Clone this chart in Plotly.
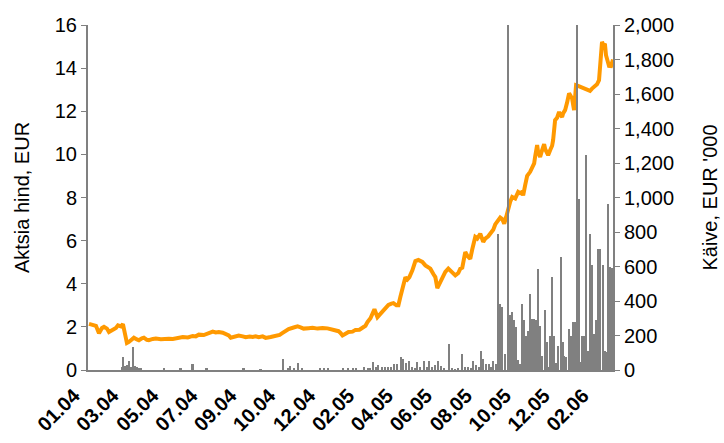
import plotly.graph_objects as go

# Trading-day index of each price observation and closing price (EUR)
price_day = [0, 4, 7, 10, 13, 15, 18, 20, 24, 27, 29, 32, 34, 35, 37, 38, 40, 42, 45,
             48, 50, 53, 55, 58, 60, 64, 67, 72, 77, 80, 84, 89, 94, 99, 104, 107, 110,
             115, 120, 124, 127, 130, 134, 137, 140, 142, 146, 150, 154, 157, 161, 164,
             167, 170, 174, 177, 182, 187, 191, 194, 197, 200, 205, 209, 212, 215, 220,
             224, 229, 234, 239, 244, 248, 250, 252, 254, 257, 260, 264, 267, 271, 274,
             277, 279, 282, 284, 286, 289, 292, 294, 297, 300, 303, 305, 308, 310, 312,
             314, 317, 319, 321, 324, 327, 330, 334, 337, 340, 342, 345, 347, 349, 352,
             355, 357, 360, 364, 367, 370, 372, 374, 377, 379, 382, 384, 387, 389, 392,
             395, 397, 400, 402, 405, 407, 410, 412, 414, 416, 418, 420, 422, 424, 427,
             430, 432, 434, 435, 437, 439, 442, 444, 446, 447, 449, 450, 452, 454, 456,
             457, 460, 462, 464, 465, 467, 469, 471, 472, 474, 475, 477, 479, 481, 482,
             484, 486, 488, 490, 493, 495, 498, 500, 502, 504, 507, 509, 511, 512, 514,
             515, 517, 518, 520, 521, 523, 525]
price_eur = [2.14, 2.08, 2.05, 1.70, 1.95, 2.00, 1.92, 1.76, 1.85, 1.95, 2.07, 2.02, 2.13,
             1.86, 1.55, 1.25, 1.30, 1.38, 1.50, 1.42, 1.38, 1.47, 1.50, 1.40, 1.38, 1.44,
             1.46, 1.43, 1.46, 1.45, 1.44, 1.47, 1.53, 1.51, 1.58, 1.56, 1.64, 1.62, 1.70,
             1.78, 1.74, 1.76, 1.73, 1.66, 1.60, 1.50, 1.55, 1.60, 1.56, 1.52, 1.55, 1.53,
             1.56, 1.52, 1.56, 1.49, 1.53, 1.56, 1.63, 1.72, 1.80, 1.90, 1.97, 2.02, 1.98,
             1.92, 1.94, 1.96, 1.92, 1.95, 1.93, 1.87, 1.86, 1.80, 1.72, 1.60, 1.68, 1.76,
             1.78, 1.86, 1.87, 1.96, 2.05, 2.22, 2.40, 2.61, 2.82, 2.45, 2.60, 2.73, 2.85,
             3.02, 3.08, 3.10, 3.00, 3.00, 3.40, 3.85, 4.30, 4.20, 4.31, 4.62, 5.05, 5.10,
             5.01, 4.85, 4.75, 4.70, 4.45, 4.31, 3.80, 4.10, 4.31, 4.55, 4.70, 4.52, 4.39,
             4.50, 4.70, 4.75, 5.47, 5.30, 5.16, 5.60, 6.17, 6.10, 6.32, 5.94, 6.09, 6.20,
             6.32, 6.50, 6.75, 6.94, 7.07, 7.00, 6.79, 7.10, 7.56, 7.80, 8.02, 7.95, 8.26,
             8.20, 8.26, 8.10, 8.57, 9.00, 9.19, 9.45, 9.58, 9.90, 10.43, 10.10, 9.88, 10.20,
             10.47, 10.25, 9.96, 10.19, 10.40, 10.66, 11.59, 11.70, 11.97, 11.85, 11.74,
             11.90, 12.05, 12.40, 12.83, 12.75, 12.59, 12.05, 13.21, 13.18, 13.13, 13.10,
             13.06, 13.00, 12.95, 13.05, 13.21, 13.25, 13.44, 14.20, 15.22, 15.10, 15.07,
             14.60, 14.22, 14.10, 14.09, 14.40, 14.76]

# Daily turnover (EUR '000); days not listed had no trades
vol_day = [33, 34, 36, 38, 40, 42, 44, 46, 48, 50, 52, 75, 92, 104, 118, 155, 172,
           195, 200, 202, 206, 210, 214, 232, 236, 240, 255, 260, 265, 268, 276, 280,
           282, 285, 288, 290, 294, 297, 300, 303, 306, 309, 313, 315, 318, 321, 324,
           327, 329, 332, 336, 339, 341, 344, 347, 350, 353, 356, 361, 364, 367, 370,
           374, 377, 380, 383, 385, 388, 391, 393, 395, 398, 401, 403, 405, 408, 410,
           412, 414, 417, 420, 422, 424, 426, 428, 430, 432, 434, 436, 438, 440, 442,
           444, 446, 448, 450, 452, 454, 457, 459, 460, 462, 464, 466, 468, 470, 473,
           475, 476, 478, 481, 483, 485, 487, 489, 491, 493, 494, 496, 498, 500, 502,
           504, 506, 508, 510, 512, 515, 517, 519, 520, 522, 524]
vol_keur = [20, 78, 25, 30, 55, 20, 136, 25, 15, 10, 8, 8, 6, 32, 6, 6, 5,
            65, 10, 25, 10, 42, 8, 8, 8, 8, 8, 10, 12, 8, 20, 8,
            12, 46, 18, 30, 20, 20, 20, 20, 32, 32, 78, 66, 40, 54, 20,
            12, 44, 15, 54, 15, 54, 20, 30, 54, 25, 10, 148, 8, 5, 8,
            90, 20, 20, 10, 54, 30, 18, 113, 66, 35, 35, 20, 54, 35, 790,
            380, 365, 90, 2100, 316, 336, 287, 249, 60, 35, 384, 287, 200, 229, 442,
            296, 296, 287, 587, 258, 84, 345, 161, 20, 200, 539, 200, 40, 142, 655,
            161, 84, 78, 239, 200, 278, 278, 2100, 994, 48, 200, 200, 1245, 113, 791,
            607, 207, 287, 704, 704, 607, 113, 104, 965, 597, 590]

# Category ticks roughly every two months of trading days, labelled mm.yy
tick_day = [0, 39, 79, 118, 157, 196, 236, 275, 314, 353, 393, 432, 471, 510]
tick_text = ["01.04", "03.04", "05.04", "07.04", "09.04", "10.04", "12.04",
             "02.05", "04.05", "06.05", "08.05", "10.05", "12.05", "02.06"]

FONT = "Liberation Sans, Arial, sans-serif"
AXIS_GREY = "#808080"

fig = go.Figure()
fig.add_trace(go.Bar(
    x=vol_day, y=vol_keur, yaxis="y2", width=1.7,
    marker=dict(color="#808080", line=dict(width=0)),
    name="Käive", showlegend=False,
))
fig.add_trace(go.Scatter(
    x=price_day, y=price_eur, mode="lines",
    line=dict(color="#FF9900", width=4),
    name="Aktsia hind", showlegend=False,
))

fig.update_layout(
    width=724, height=443,
    margin=dict(l=88, r=111, t=25, b=73, autoexpand=False),
    paper_bgcolor="white", plot_bgcolor="white",
    font=dict(family=FONT, size=20, color="black"),
    bargap=0,
    xaxis=dict(
        range=[-1, 525], tickmode="array", tickvals=tick_day, ticktext=tick_text,
        tickangle=-45, tickfont=dict(family=FONT, size=20, color="black", weight="bold"),
        ticklabelshift=-15, ticklabelstandoff=4, automargin=False,
        showline=True, linecolor=AXIS_GREY, linewidth=2, ticks="", showgrid=False,
        zeroline=False,
    ),
    yaxis=dict(
        range=[0, 16], dtick=2, showgrid=False, zeroline=False, automargin=False,
        showline=True, linecolor=AXIS_GREY, linewidth=2,
        ticks="outside", ticklen=5, tickcolor=AXIS_GREY, tickwidth=1,
        title=dict(text="Aktsia hind, EUR", font=dict(size=20), standoff=20),
    ),
    yaxis2=dict(
        range=[0, 2000], dtick=200, tickformat=",", overlaying="y", side="right",
        showgrid=False, zeroline=False, automargin=False,
        showline=True, linecolor=AXIS_GREY, linewidth=2,
        ticks="outside", ticklen=5, tickcolor=AXIS_GREY, tickwidth=1,
        title=dict(text="Käive, EUR '000", font=dict(size=20), standoff=30),
    ),
)

fig.write_html("out.html")
